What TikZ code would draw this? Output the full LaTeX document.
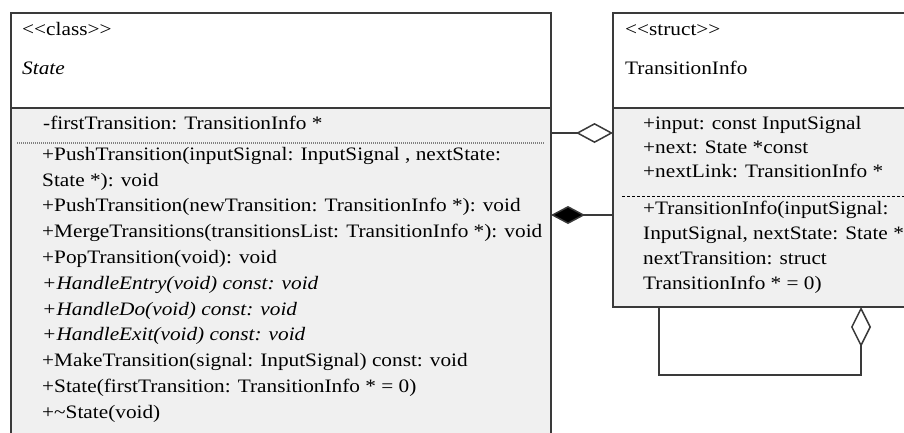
\documentclass[tikz,border=0pt]{standalone}
\usepackage{fontspec}
\setmainfont{Liberation Serif}
\usepackage{graphicx}
\usetikzlibrary{arrows.meta}
\definecolor{boxline}{HTML}{3A3A3A}
\definecolor{bodygray}{HTML}{F0F0F0}
\newcommand\stx[1]{\scalebox{1.12}[1]{#1}}
\newcommand\lt{\textless\kern0pt\textless\kern0pt}
\newcommand\gt{\kern0pt\textgreater\kern0pt\textgreater}
\begin{document}
\begin{tikzpicture}[x=1pt,y=-1pt,
  box/.style={draw=boxline, line width=1.5pt, anchor=north west, inner sep=0pt, outer sep=0pt},
  lbl/.style={anchor=mid west, inner sep=0pt, font=\fontsize{19}{22}\selectfont},
  ilbl/.style={lbl, font=\fontsize{19}{22}\selectfont\itshape},
  conn/.style={draw=boxline, line width=1.5pt},
  sepdot/.style={draw=gray, line width=1.5pt, dash pattern=on 1pt off 1pt},
  sepdash/.style={draw=black, line width=1pt, dash pattern=on 3pt off 2pt}]
\clip (0,0) rectangle (904,432);
\fill[white] (0,0) rectangle (904,432);
% boxes
\node[box, fill=white, minimum width=540pt, minimum height=95pt] (stateHead) at (11,13) {};
\node[box, fill=bodygray, minimum width=540pt, minimum height=360pt] (stateBody) at (11,108) {};
\node[box, fill=white, minimum width=340pt, minimum height=95pt] (infoHead) at (613,13) {};
\node[box, fill=bodygray, minimum width=340pt, minimum height=199pt] (infoBody) at (613,108) {};
% separators
\coordinate (sdA) at (17,143);
\coordinate (sdB) at (545,143);
\draw[sepdot] (sdA) -- (sdB);
\coordinate (idA) at (622,196);
\coordinate (idB) at (904,196);
\draw[sepdash] (idA) -- (idB);
% State header
\node[lbl] (sStereo) at (22,33) {\stx{\lt class\gt}};
\node[ilbl] (sName) at (22,72) {\stx{State}};
% State body
\node[lbl] (sA1) at (43,127) {\stx{-firstTransition: TransitionInfo *}};
\node[lbl] (sM1) at (42,158) {\stx{+PushTransition(inputSignal: InputSignal , nextState:}};
\node[lbl] (sM1b) at (42,183.8) {\stx{State *): void}};
\node[lbl] (sM2) at (42,209.6) {\stx{+PushTransition(newTransition: TransitionInfo *): void}};
\node[lbl] (sM3) at (42,235.4) {\stx{+MergeTransitions(transitionsList: TransitionInfo *): void}};
\node[lbl] (sM4) at (42,261.2) {\stx{+PopTransition(void): void}};
\node[ilbl] (sM5) at (42,287) {\stx{+HandleEntry(void) const: void}};
\node[ilbl] (sM6) at (42,312.8) {\stx{+HandleDo(void) const: void}};
\node[ilbl] (sM7) at (42,338.6) {\stx{+HandleExit(void) const: void}};
\node[lbl] (sM8) at (42,364.4) {\stx{+MakeTransition(signal: InputSignal) const: void}};
\node[lbl] (sM9) at (42,390.2) {\stx{+State(firstTransition: TransitionInfo * = 0)}};
\node[lbl] (sM10) at (42,416) {\stx{+\textasciitilde State(void)}};
% TransitionInfo header
\node[lbl] (iStereo) at (625,33) {\stx{\lt struct\gt}};
\node[lbl] (iName) at (625,72) {\stx{TransitionInfo}};
% TransitionInfo body
\node[lbl] (iA1) at (643,127) {\stx{+input: const InputSignal}};
\node[lbl] (iA2) at (643,151) {\stx{+next: State *const}};
\node[lbl] (iA3) at (643,175) {\stx{+nextLink: TransitionInfo *}};
\node[lbl] (iM1) at (643,212) {\stx{+TransitionInfo(inputSignal:}};
\node[lbl] (iM1b) at (643,237) {\stx{InputSignal, nextState: State *,}};
\node[lbl] (iM1c) at (643,262) {\stx{nextTransition: struct}};
\node[lbl] (iM1d) at (643,287) {\stx{TransitionInfo * = 0)}};
% connectors
\coordinate (ag) at (0,133);
\draw[conn, -{Diamond[open, fill=white, length=37pt, width=20pt]}] (stateBody.east |- ag) -- (infoBody.west |- ag);
\coordinate (co) at (0,215);
\draw[conn, -{Diamond[fill=black, length=34pt, width=18pt]}] (infoBody.west |- co) -- (stateBody.east |- co);
\coordinate (lpA) at (659,375);
\coordinate (lpB) at (861,375);
\draw[conn, -{Diamond[open, fill=white, length=40pt, width=20pt]}] (infoBody.south -| lpA) -- (lpA) -- (lpB) -- (infoBody.south -| lpB);
\end{tikzpicture}
\end{document}
